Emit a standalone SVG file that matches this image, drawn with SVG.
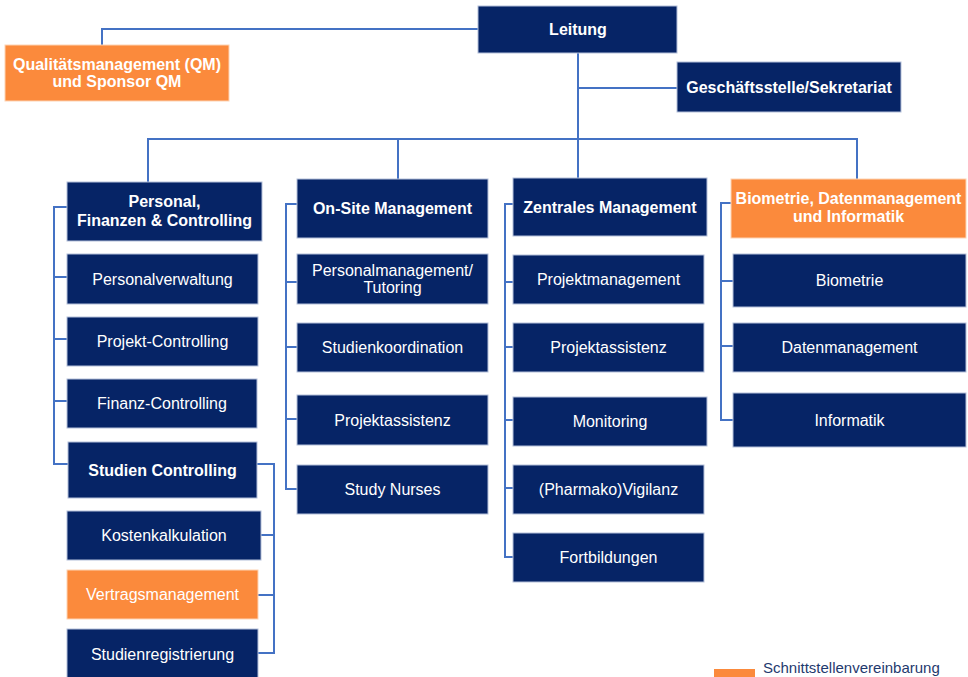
<svg xmlns="http://www.w3.org/2000/svg" width="968" height="677" viewBox="0 0 968 677">
<style>
.n{fill:#062466;stroke:#B4C0DA;stroke-width:1}
.o{fill:#FB8A3C;stroke:#FDD3B4;stroke-width:1}
text{font-family:"Liberation Sans",Arial,sans-serif;font-size:16px;fill:#FFFFFF;text-anchor:middle}
.b{font-weight:bold}
.c{fill:none;stroke:#4472C4;stroke-width:2}
</style>
<rect width="968" height="677" fill="#FFFFFF"/>
<g id="connectors" class="c">
<path d="M478,29 H102 V45"/>
<path d="M578,53 V179"/>
<path d="M578,88 H677"/>
<path d="M148,182 V139 H857 V179"/>
<path d="M398,139 V179"/>
<path d="M67,207 H54 V464 H68 M54,277 H67 M54,339 H67 M54,401 H67"/>
<path d="M257,464 H274 V653 H258 M274,535 H261 M274,595 H258"/>
<path d="M297,204 H286 V489 H297 M286,282 H297 M286,347 H297 M286,419 H297"/>
<path d="M513,204 H505 V557 H513 M505,282 H513 M505,347 H513 M505,420 H513 M505,488 H513"/>
<path d="M731,203 H721 V420 H733 M721,281 H733 M721,346 H733"/>
</g>
<g id="leitung"><rect class="n" x="478" y="6" width="199" height="47"/><text class="b" x="578" y="35">Leitung</text></g>
<g id="qm"><rect class="o" x="5" y="45" width="224" height="56"/><text class="b" x="117" y="70">Qualitätsmanagement (QM)</text><text class="b" x="117" y="87">und Sponsor QM</text></g>
<g id="geschaeftsstelle"><rect class="n" x="677" y="62" width="224" height="50"/><text class="b" x="789" y="93">Geschäftsstelle/Sekretariat</text></g>
<g id="personal"><rect class="n" x="67" y="182" width="195" height="59"/><text class="b" x="164.5" y="207">Personal,</text><text class="b" x="164.5" y="226">Finanzen &amp; Controlling</text></g>
<g id="personalverwaltung"><rect class="n" x="67" y="254" width="191" height="50"/><text x="162.5" y="285">Personalverwaltung</text></g>
<g id="projekt-controlling"><rect class="n" x="67" y="317" width="191" height="49"/><text x="162.5" y="347">Projekt-Controlling</text></g>
<g id="finanz-controlling"><rect class="n" x="67" y="379" width="190" height="49"/><text x="162" y="409">Finanz-Controlling</text></g>
<g id="studien-controlling"><rect class="n" x="68" y="442" width="189" height="56"/><text class="b" x="162.5" y="476">Studien Controlling</text></g>
<g id="kostenkalkulation"><rect class="n" x="67" y="511" width="194" height="49"/><text x="164" y="541">Kostenkalkulation</text></g>
<g id="vertragsmanagement"><rect class="o" x="67" y="570" width="191" height="49"/><text x="162.5" y="600">Vertragsmanagement</text></g>
<g id="studienregistrierung"><rect class="n" x="67" y="629" width="191" height="50"/><text x="162.5" y="660">Studienregistrierung</text></g>
<g id="onsite"><rect class="n" x="297" y="179" width="191" height="59"/><text class="b" x="392.5" y="214">On-Site Management</text></g>
<g id="personalmanagement"><rect class="n" x="297" y="254" width="191" height="50"/><text x="392.5" y="276">Personalmanagement/</text><text x="392.5" y="293">Tutoring</text></g>
<g id="studienkoordination"><rect class="n" x="297" y="323" width="191" height="49"/><text x="392.5" y="353">Studienkoordination</text></g>
<g id="projektassistenz1"><rect class="n" x="297" y="395" width="191" height="50"/><text x="392.5" y="426">Projektassistenz</text></g>
<g id="studynurses"><rect class="n" x="297" y="465" width="191" height="49"/><text x="392.5" y="495">Study Nurses</text></g>
<g id="zentrales"><rect class="n" x="513" y="178" width="194" height="58"/><text class="b" x="610" y="213">Zentrales Management</text></g>
<g id="projektmanagement"><rect class="n" x="513" y="255" width="191" height="49"/><text x="608.5" y="285">Projektmanagement</text></g>
<g id="projektassistenz2"><rect class="n" x="513" y="323" width="191" height="49"/><text x="608.5" y="353">Projektassistenz</text></g>
<g id="monitoring"><rect class="n" x="513" y="397" width="194" height="49"/><text x="610" y="427">Monitoring</text></g>
<g id="vigilanz"><rect class="n" x="513" y="465" width="191" height="49"/><text x="608.5" y="495">(Pharmako)Vigilanz</text></g>
<g id="fortbildungen"><rect class="n" x="513" y="533" width="191" height="49"/><text x="608.5" y="563">Fortbildungen</text></g>
<g id="biometrie-header"><rect class="o" x="731" y="179" width="235" height="59"/><text class="b" x="848.5" y="204">Biometrie, Datenmanagement</text><text class="b" x="848.5" y="222">und Informatik</text></g>
<g id="biometrie"><rect class="n" x="733" y="254" width="233" height="53"/><text x="849.5" y="286">Biometrie</text></g>
<g id="datenmanagement"><rect class="n" x="733" y="323" width="233" height="49"/><text x="849.5" y="353">Datenmanagement</text></g>
<g id="informatik"><rect class="n" x="733" y="393" width="233" height="54"/><text x="849.5" y="426">Informatik</text></g>
<g id="legend"><rect x="714" y="669" width="41" height="10" fill="#FB8A3C"/><text x="763" y="673" style="font-size:15px;fill:#1F3A6E;text-anchor:start">Schnittstellenvereinbarung</text></g>
</svg>
